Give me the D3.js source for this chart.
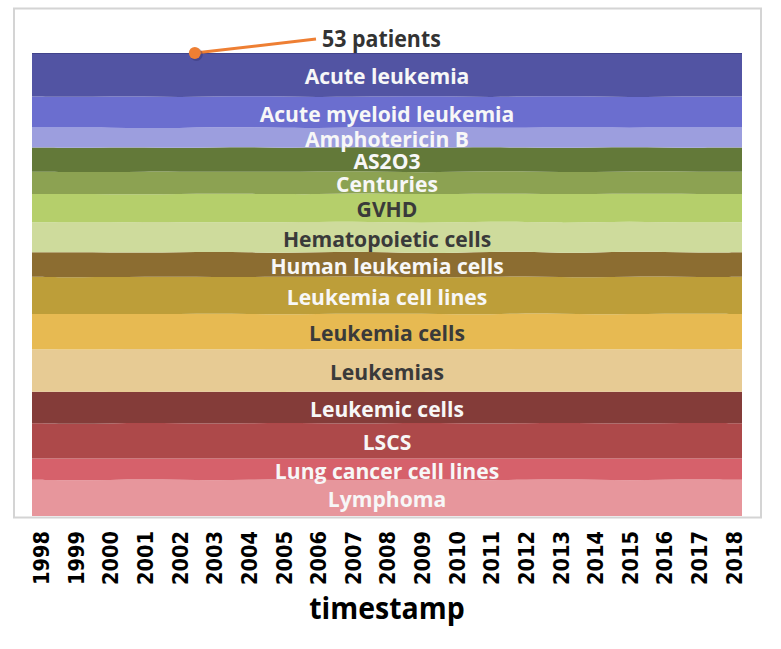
<!DOCTYPE html>
<html>
<head>
<meta charset="utf-8">
<script src="https://cdn.jsdelivr.net/npm/d3@7"></script>
<style>
  html, body { margin: 0; padding: 0; background: #ffffff; }
  svg { display: block; }
</style>
</head>
<body>
<svg id="chart" width="781" height="649"></svg>
<script>
// ---------- data ----------
const years = [1998,1999,2000,2001,2002,2003,2004,2005,2006,2007,2008,2009,2010,2011,2012,2013,2014,2015,2016,2017,2018];
const categories = ["Acute leukemia","Acute myeloid leukemia","Amphotericin B","AS2O3","Centuries","GVHD",
  "Hematopoietic cells","Human leukemia cells","Leukemia cell lines","Leukemia cells","Leukemias",
  "Leukemic cells","LSCS","Lung cancer cell lines","Lymphoma"];
const acuteLeukemia      = [94,95,94,94,95,94,93,94,95,94,94,93,94,95,94,93,94,95,94,94,94];
const acuteMyeloid       = [67,66,67,68,67,66,67,68,67,66,67,68,67,66,67,68,67,66,67,67,67];
const amphotericinB      = [43,44,43,42,43,44,43,43,42,43,43,44,43,42,43,44,43,42,43,44,43];
const as2o3              = [52,52,53,52,51,52,53,52,52,51,52,53,52,52,51,52,53,52,51,52,52];
const centuries          = [48,47,48,49,48,47,48,48,49,48,48,47,48,49,48,48,47,48,49,48,48];
const gvhd               = [61,62,61,60,61,62,61,61,60,61,61,62,61,60,61,62,61,60,61,62,61];
const hematopoietic      = [65,64,65,66,65,64,65,66,65,64,65,65,66,65,64,65,66,65,64,65,65];
const humanLeukemiaCells = [53,54,53,52,53,54,53,52,53,54,53,52,53,54,53,52,53,54,53,53,53];
const leukemiaCellLines  = [80,79,80,81,80,79,80,81,80,80,80,79,80,81,80,79,80,81,80,79,80];
const leukemiaCells      = [76,77,76,75,76,77,76,75,76,77,76,76,75,76,77,76,75,76,77,76,76];
const leukemias          = [92,91,92,93,92,91,92,93,92,91,92,93,92,91,92,93,92,91,92,93,92];
const leukemicCells      = [68,69,68,67,68,69,68,67,68,69,68,67,68,69,68,67,68,69,68,67,68];
const lscs               = [76,75,76,77,76,75,76,77,76,75,76,77,76,75,76,77,76,75,76,77,76];
const lungCancerLines    = [46,47,46,45,46,47,46,45,46,47,46,45,46,47,46,45,46,47,46,45,46];
const lymphoma           = [78,77,78,79,78,77,78,79,78,77,78,79,78,77,78,79,78,77,78,79,78];
const seriesValues = [acuteLeukemia, acuteMyeloid, amphotericinB, as2o3, centuries, gvhd, hematopoietic,
  humanLeukemiaCells, leukemiaCellLines, leukemiaCells, leukemias, leukemicCells, lscs, lungCancerLines, lymphoma];
const colors = ["#5254a3","#6b6ecf","#9c9ede","#637939","#8ca252","#b5cf6b","#cedb9c","#8c6d31",
  "#bd9e39","#e7ba52","#e7cb94","#843c39","#ad494a","#d6616b","#e7969c"];
const darkLabel = ["GVHD","Hematopoietic cells","Leukemia cells","Leukemias"];
const annotationYear = 2002.45;
const annotationText = "53 patients";
const xTitle = "timestamp";

// ---------- layout ----------
const svg = d3.select("#chart");
const plot = {left: 32, right: 742, top: 53, bottom: 516};

// table built from the arrays
const table = years.map((yr, i) => {
  const row = {year: yr};
  categories.forEach((c, k) => row[c] = seriesValues[k][i]);
  return row;
});

const x = d3.scaleLinear().domain([1998, 2018]).range([40.7, 733.3]);
const y = d3.scaleLinear().domain([0, 1]).range([plot.bottom, plot.top]);
const color = d3.scaleOrdinal().domain(categories).range(colors);

// extend first/last rows to the plot edges
const ext = [Object.assign({}, table[0], {year: x.invert(plot.left)}),
             ...table,
             Object.assign({}, table[table.length-1], {year: x.invert(plot.right)})];

const stack = d3.stack().keys(categories.slice().reverse()).offset(d3.stackOffsetExpand);
const layers = stack(ext);

// frame
svg.append("rect")
  .attr("x", 14).attr("y", 8.5).attr("width", 747).attr("height", 509)
  .attr("fill", "#ffffff").attr("stroke", "#d4d4d4").attr("stroke-width", 2);

const area = d3.area()
  .x(d => x(d.data.year))
  .y0(d => y(d[0]))
  .y1(d => y(d[1]))
  .curve(d3.curveBasis);

svg.append("g").selectAll("path")
  .data(layers)
  .join("path")
  .attr("d", area)
  .attr("fill", d => color(d.key));

// subtle top edge
svg.append("path")
  .datum(layers[layers.length-1])
  .attr("d", d3.line().x(d => x(d.data.year)).y(d => y(d[1]) + 0.5).curve(d3.curveBasis))
  .attr("fill", "none").attr("stroke", "#3b3c80").attr("stroke-width", 1.2).attr("opacity", 0.7);

// labels at the middle of the plot
const midYear = 2008;
const midIdx = ext.findIndex(r => r.year === midYear);
const cx = (plot.left + plot.right) / 2;
svg.append("g").selectAll("text")
  .data(layers)
  .join("text")
  .attr("transform", d => `translate(${cx},${y((d[midIdx][0] + d[midIdx][1]) / 2) + 1.5}) scale(0.96,1)`)
  .attr("dy", "0.36em")
  .attr("text-anchor", "middle")
  .attr("font-family", "'Open Sans', sans-serif")
  .attr("font-weight", 700)
  .attr("font-size", 22)
  .attr("fill", d => darkLabel.includes(d.key) ? "#3a3a3a" : "#f7f7f7")
  .text(d => d.key);

// x axis tick labels
const axis = d3.axisBottom(x).tickValues(years).tickFormat(d3.format("d")).tickSize(0).tickPadding(0);
const gx = svg.append("g").attr("transform", `translate(0,${plot.bottom})`).call(axis);
gx.select(".domain").remove();
gx.selectAll(".tick text")
  .attr("transform", "translate(0,15) rotate(-90)")
  .attr("x", 0).attr("y", 0)
  .attr("dy", "0.36em")
  .attr("text-anchor", "end")
  .attr("font-family", "'DejaVu Sans', sans-serif")
  .attr("font-weight", "bold")
  .attr("font-size", 22)
  .attr("textLength", 54)
  .attr("lengthAdjust", "spacingAndGlyphs")
  .attr("fill", "#000");

// axis title
svg.append("text")
  .attr("transform", `translate(${cx},619) scale(0.95,1)`)
  .attr("text-anchor", "middle")
  .attr("font-family", "'Open Sans', sans-serif")
  .attr("font-weight", 700)
  .attr("font-size", 30)
  .attr("fill", "#000")
  .text(xTitle);

// annotation
const ax = x(annotationYear), ay = y(1);
const tx = 316, ty = 39;
svg.append("line")
  .attr("x1", ax).attr("y1", ay).attr("x2", tx).attr("y2", ty)
  .attr("stroke", "#ee7f33").attr("stroke-width", 3);
svg.append("circle")
  .attr("cx", ax + 1.5).attr("cy", ay + 1.5).attr("r", 6.5)
  .attr("fill", "#2a2b66").attr("opacity", 0.35);
svg.append("circle")
  .attr("cx", ax).attr("cy", ay).attr("r", 6)
  .attr("fill", "#ee7f33");
svg.append("text")
  .attr("transform", `translate(${tx + 6},${ty}) scale(0.93,1)`)
  .attr("dy", "0.36em")
  .attr("font-family", "'Open Sans', sans-serif")
  .attr("font-weight", 700)
  .attr("font-size", 23)
  .attr("fill", "#333333")
  .text(annotationText);
</script>
</body>
</html>
